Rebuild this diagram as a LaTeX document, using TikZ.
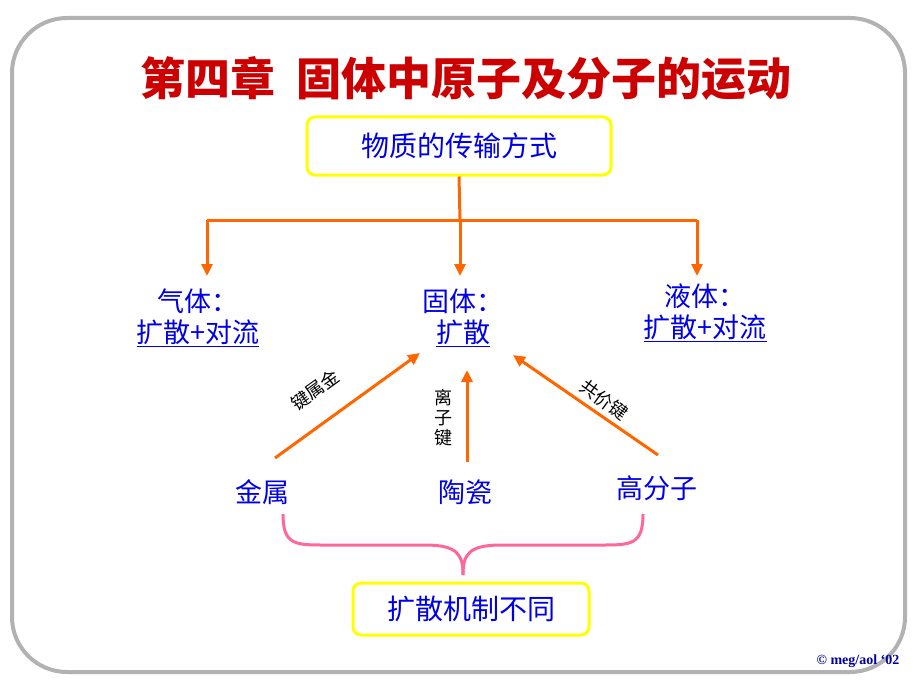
\documentclass[tikz,border=0pt]{standalone}
\usepackage{fontspec}
\setmainfont{Liberation Serif}
\newfontfamily\cjk{Noto Sans CJK SC}
\usetikzlibrary{arrows.meta}
\definecolor{titlered}{RGB}{204,0,0}
\definecolor{txtblue}{RGB}{0,0,230}
\definecolor{arrorange}{RGB}{255,102,0}
\definecolor{boxyellow}{RGB}{255,255,0}
\definecolor{bracepink}{RGB}{255,102,153}
\tikzset{
  ybox/.style={draw=boxyellow,line width=3pt,rounded corners=8pt,minimum height=58pt,text=txtblue,font=\cjk\fontsize{28}{30}\selectfont},
  item/.style={text=txtblue,font=\cjk\fontsize{27}{31}\selectfont,inner sep=1pt},
  bond/.style={font=\cjk\fontsize{18}{20}\selectfont,inner sep=1pt},
  oarrow/.style={draw=arrorange,line width=3pt,-{Triangle[length=12pt,width=11pt]}},
}
\begin{document}
\begin{tikzpicture}[x=1pt,y=-1pt]
\useasboundingbox (0,0) rectangle (920,690);
% frame
\draw [gray!60,line width=4pt,rounded corners=55pt] (12,18) rectangle (905,672);
% title
\node (title) [text=titlered,font=\cjk\bfseries\fontsize{45}{50}\selectfont] at (466,78) {第四章\ \ 固体中原子及分子的运动};
% top box
\node (top) [ybox,minimum width=304pt] at (459,146) {物质的传输方式};
\coordinate (split) at (460,220);
\coordinate (gasend) at (207,220);
\coordinate (liqend) at (697,220);
\draw [arrorange,line width=3pt] (top.south) -- (split);
\draw [arrorange,line width=3pt] (gasend) -- (liqend);
\coordinate (gasdown) at (207,276);
\coordinate (soldown) at (460,276);
\coordinate (liqdown) at (697,276);
\draw [oarrow] (gasend) -- (gasdown);
\draw [oarrow] (split) -- (soldown);
\draw [oarrow] (liqend) -- (liqdown);
% phases
\node (gas) [item,align=center] at (198,318) {气体：\\\underline{扩散+对流}};
\node (solid) [item,align=center] at (463,318) {固体：\\\underline{扩散}};
\node (liquid) [item,align=center] at (705,313) {液体：\\\underline{扩散+对流}};
% materials
\node (metal) [item] at (262,492) {金属};
\node (ceramic) [item] at (465,492) {陶瓷};
\node (polymer) [item] at (657,488) {高分子};
\coordinate (mtip) at (420,353);
\coordinate (ctip) at (467,370);
\coordinate (ptip) at (513,355);
\coordinate (mfoot) at (275,458);
\coordinate (cfoot) at (467,462);
\coordinate (pfoot) at (658,455);
\draw [oarrow] (mfoot) -- (mtip);
\draw [oarrow] (cfoot) -- (ctip);
\draw [oarrow] (pfoot) -- (ptip);
\node (mlab) [bond,rotate=36] at (315,390) {键属金};
\node (clab) [bond,align=center] at (443,418) {离\\子\\键};
\node (plab) [bond,rotate=-36] at (604,400) {共价键};
% brace
\node (diff) [ybox,minimum width=236pt,minimum height=52pt] at (471,609) {扩散机制不同};
\draw [bracepink,line width=3pt] (283,514) .. controls (283,545) and (295,545) .. (325,545)
  -- (425,545) .. controls (458,545) and (463,555) .. (463,575);
\draw [bracepink,line width=3pt] (643,514) .. controls (643,545) and (631,545) .. (601,545)
  -- (501,545) .. controls (468,545) and (463,555) .. (463,575);
% credit
\node (credit) [text=txtblue!70!black,font=\bfseries\fontsize{14}{16}\selectfont] at (858,661) {© meg/aol ‘02};
\end{tikzpicture}
\end{document}
